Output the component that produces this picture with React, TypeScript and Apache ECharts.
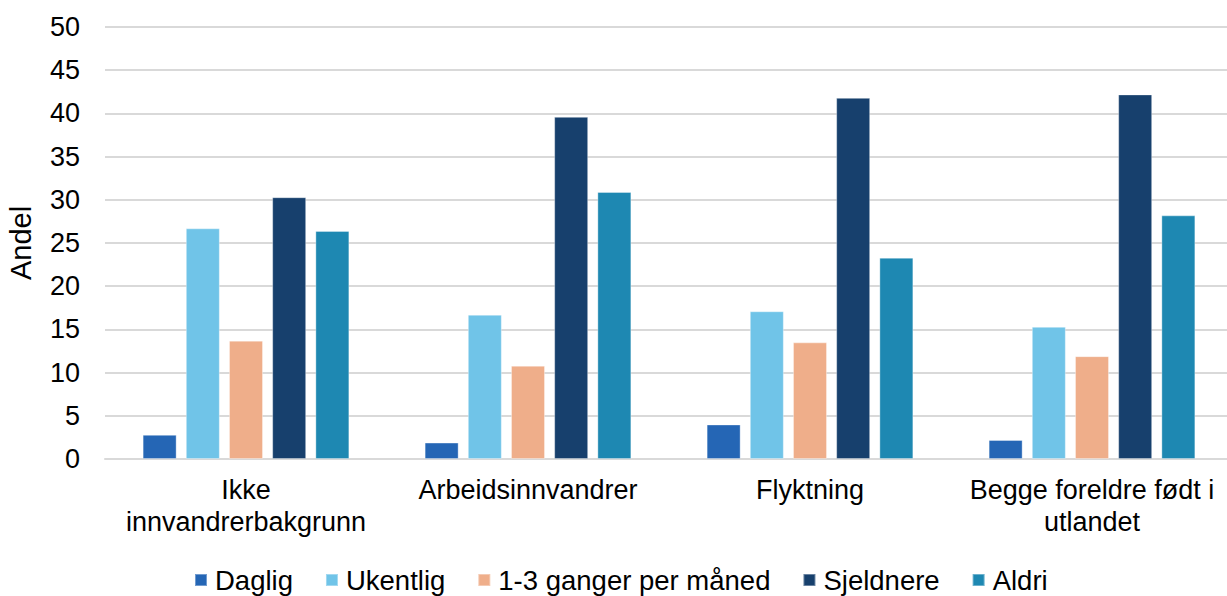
import React, { useEffect, useRef } from "react";
import * as echarts from "echarts";

const categories = [
  "Ikke\ninnvandrerbakgrunn",
  "Arbeidsinnvandrer",
  "Flyktning",
  "Begge foreldre født i\nutlandet",
];
const seriesNames = ["Daglig", "Ukentlig", "1-3 ganger per måned", "Sjeldnere", "Aldri"];
const daglig = [2.8, 1.9, 4.0, 2.2];
const ukentlig = [26.7, 16.7, 17.1, 15.3];
const ganger = [13.7, 10.8, 13.5, 11.9];
const sjeldnere = [30.3, 39.6, 41.8, 42.2];
const aldri = [26.4, 30.9, 23.3, 28.2];
const colors = ["#2566b5", "#70c4e8", "#efae8a", "#17406d", "#1e88b2"];

export default function App() {
  const ref = useRef<HTMLDivElement>(null);
  useEffect(() => {
    if (!ref.current) return;
    const chart = echarts.init(ref.current, null, { renderer: "svg" });
    const values = [daglig, ukentlig, ganger, sjeldnere, aldri];
    const font = "Liberation Sans, Arial, sans-serif";
    chart.setOption({
      animation: false,
      grid: { left: 105, width: 1128, top: 27, bottom: 137, outerBoundsMode: "none", containLabel: false },
      legend: {
        top: 566,
        left: 194,
        padding: 0,
        itemWidth: 12,
        itemHeight: 12,
        itemGap: 32,
        icon: "rect",
        textStyle: { fontFamily: font, fontSize: 27.5, lineHeight: 28, color: "#000", padding: [0, 0, 0, 3] },
        data: seriesNames,
      },
      xAxis: {
        type: "category",
        data: categories,
        axisTick: { show: false },
        axisLine: { lineStyle: { color: "#d9d9d9", width: 2 } },
        axisLabel: {
          fontFamily: font,
          fontSize: 27,
          color: "#000",
          lineHeight: 32,
          margin: 15,
          interval: 0,
        },
      },
      yAxis: {
        type: "value",
        min: 0,
        max: 50,
        interval: 5,
        name: "Andel",
        nameLocation: "middle",
        nameGap: 70,
        nameRotate: 90,
        nameTextStyle: { fontFamily: font, fontSize: 29, color: "#000" },
        axisLabel: { fontFamily: font, fontSize: 27, color: "#000", margin: 25 },
        splitLine: { lineStyle: { color: "#d9d9d9", width: 2 } },
      },
      series: seriesNames.map((name, i) => ({
        name,
        type: "bar",
        data: values[i],
        barWidth: 34,
        barGap: "27%",
        itemStyle: { color: colors[i], borderColor: "rgba(255,255,255,0.35)", borderWidth: 1 },
      })),
    });
    return () => chart.dispose();
  }, []);
  return (
    <div
      ref={ref}
      style={{ position: "fixed", left: 0, top: 0, width: 1227, height: 596, background: "#fff" }}
    />
  );
}
